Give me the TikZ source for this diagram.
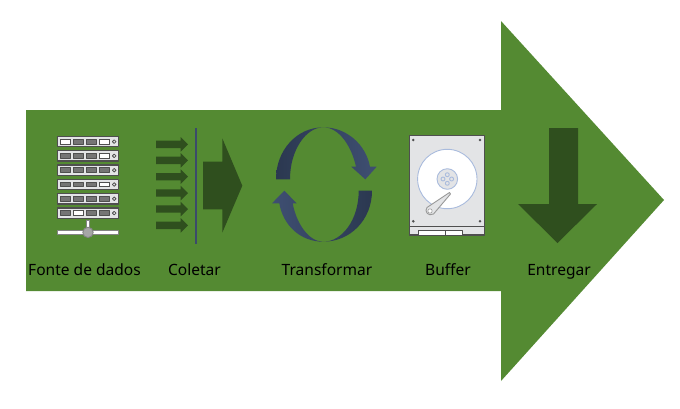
\documentclass[tikz,border=0pt]{standalone}
\usepackage{fontspec}
\setmainfont{Noto Sans}
\usetikzlibrary{arrows}

\definecolor{flowgreen}{HTML}{548A32}
\definecolor{darkgreen}{HTML}{2F4F1E}
\definecolor{slate}{HTML}{3B4A6B}
\definecolor{slatedark}{HTML}{2B3850}
\definecolor{slatelight}{HTML}{3F4F72}
\definecolor{rackgray}{HTML}{E3E4E6}
\definecolor{edgegray}{HTML}{4F4F4F}
\definecolor{slotgray}{HTML}{757575}
\definecolor{platterblue}{HTML}{A9BBDD}

\tikzset{
  flowlabel/.style={font=\fontsize{15.6}{18}\selectfont,text=black,inner sep=0pt,anchor=base},
  greenshape/.style={fill=darkgreen,draw=none},
  screwdot/.style={fill=edgegray,draw=none},
  hubhole/.style={fill=rackgray,draw=platterblue,line width=0.9bp},
  rackslot/.style={draw=edgegray,line width=0.9bp},
}

\begin{document}
\begin{tikzpicture}[x=1bp,y=-1bp,line join=bevel]

\useasboundingbox (0,0) rectangle (680,408);
\fill[white] (0,0) rectangle (680,408);

% Big arrow
\fill[flowgreen] (26,110) -- (501,110) -- (501,21) -- (664,200) -- (501,381) -- (501,291) -- (26,291) -- cycle;

% Server rack
\foreach \row/\lita/\litb in {0/0/1,1/-1/1,2/-1/-1,3/-1/1,4/-1/-1,5/1/-1} {
  \begin{scope}[yshift={-14.3bp*\row}]
    \draw[fill=rackgray,draw=edgegray,line width=1.3bp] (57.5,136.5) rectangle (118.5,146.8);
    \foreach \slot in {0,1,2,3} {
      \fill[slotgray,rackslot] ({60.5+13.1*\slot},139.3) rectangle ({70+13.1*\slot},144);
    }
    \ifnum\lita>-1
      \fill[white,rackslot] ({60.5+13.1*\lita},139.3) rectangle ({70+13.1*\lita},144);
    \fi
    \ifnum\litb>-1
      \fill[white,rackslot] ({60.5+13.1*3},139.3) rectangle ({70+13.1*3},144);
    \fi
    \draw[fill=rackgray,draw=edgegray,line width=0.8bp] (114.2,141.6) circle (1.8);
  \end{scope}
}
\draw[fill=white,draw=edgegray!70,line width=0.9bp] (86.5,220) rectangle (89.5,228);
\draw[fill=white,draw=edgegray!70,line width=1bp] (57.5,230.6) rectangle (118.5,234.2);
\draw[fill=gray!70,draw=edgegray!70,line width=0.9bp] (88,232.4) circle (5.2);

% Collect arrows
\foreach \ypos in {144.3,160.3,176.7,193,209,225.3} {
  \fill[greenshape] (156,\ypos-3.7) -- (180.7,\ypos-3.7) -- (180.7,\ypos-7.3) -- (188,\ypos) -- (180.7,\ypos+7.3) -- (180.7,\ypos+3.7) -- (156,\ypos+3.7) -- cycle;
}
\draw[slate,line width=2.4bp] (196,128) -- (196,244);
\fill[greenshape] (203,161.7) -- (222.3,161.7) -- (222.3,138.3) -- (242.3,185.7) -- (222.3,232.7) -- (222.3,209.3) -- (203,209.3) -- cycle;

% Transform cycle
\shade[left color=slatedark,right color=slatelight]
  (276,179.3) .. controls (276,150) and (297,127.3) .. (323.3,127.3)
  .. controls (347,127.3) and (366,145) .. (370,166.7)
  -- (376.7,166.7) -- (365.3,179.3) -- (351.3,166.7) -- (356,166.7)
  .. controls (352,148) and (340,127.3) .. (323.3,127.3)
  .. controls (306,127.3) and (290,150) .. (290,179.3) -- cycle;
\shade[left color=slatelight,right color=slatedark]
  (372,190.7) .. controls (372,220) and (350,241.7) .. (323.3,241.7)
  .. controls (300,241.7) and (283,225) .. (279.3,203.3)
  -- (272,203.3) -- (284.3,190.7) -- (296.7,203.3) -- (292.7,203.3)
  .. controls (296,222) and (308,241.7) .. (323.3,241.7)
  .. controls (342,241.7) and (358.7,220) .. (358.7,190.7) -- cycle;

% Hard disk
\draw[fill=rackgray,draw=edgegray,line width=1.1bp] (409.3,135.7) rectangle (484.3,235);
\draw[edgegray,line width=0.6bp] (409.3,226) -- (484.3,226);
\draw[fill=white,draw=edgegray,line width=0.9bp] (418,230.3) rectangle (445,235);
\draw[fill=white,draw=edgegray,line width=0.9bp] (445,230.3) rectangle (462.7,235);
\foreach \sx/\sy in {413.3/140,480/140,413.3/221.3,480/221.3} {
  \fill[screwdot] (\sx,\sy) circle (1.4);
}
\draw[fill=white,draw=platterblue,line width=0.9bp] (447.3,179) circle (29.7);
\draw[hubhole] (447.3,179) circle (10.3);
\foreach \hx/\hy in {447.3/174.7,451.6/179,447.3/183.3,443/179} {
  \draw[hubhole] (\hx,\hy) circle (2);
}
\draw[fill=rackgray,draw=gray!80,line width=0.9bp] (427,207.5) -- (449.5,192.5) -- (450.5,194) -- (433.5,214) .. controls (428,217) and (424,211) .. (427,207.5) -- cycle;
\draw[fill=white,draw=gray!80,line width=0.6bp] (430,211) circle (2.2);

% Entregar arrow
\fill[greenshape] (549,128) -- (578,128) -- (578,204) -- (597,204) -- (557.5,243) -- (518,204) -- (549,204) -- cycle;

% Labels
\node[flowlabel] (fonte) at (84.5,275) {Fonte de dados};
\node[flowlabel] (coletar) at (194.5,275) {Coletar};
\node[flowlabel] (transformar) at (327,275) {Transformar};
\node[flowlabel] (buffer) at (448,275) {Buffer};
\node[flowlabel] (entregar) at (559,275) {Entregar};

\end{tikzpicture}
\end{document}
